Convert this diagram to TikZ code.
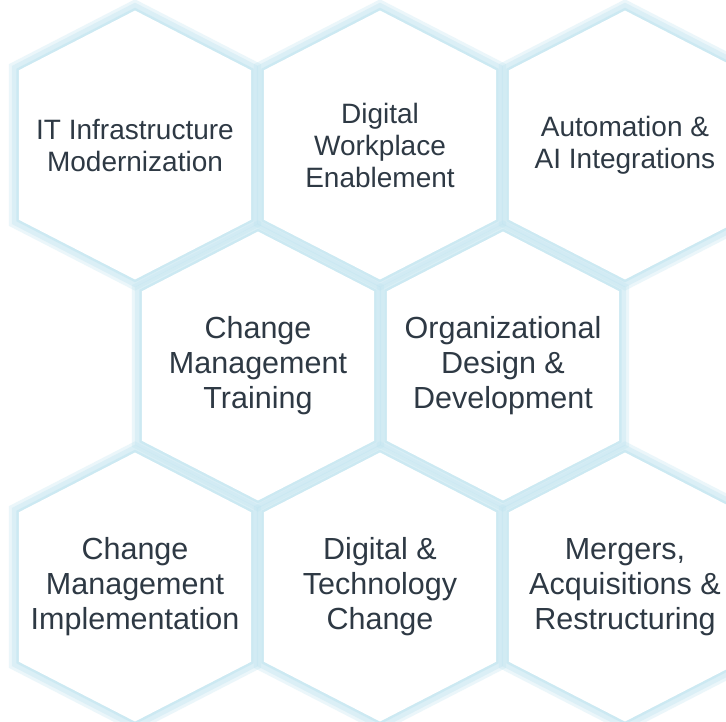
\documentclass[tikz,border=0pt]{standalone}
\usepackage{fontspec}
\setmainfont{Liberation Sans}
\newcommand{\hexa}[3]{({#1},{#2-142*#3}) -- ({#1+122.5*#3},{#2-79*#3}) -- ({#1+122.5*#3},{#2+79*#3}) -- ({#1},{#2+142*#3}) -- ({#1-122.5*#3},{#2+79*#3}) -- ({#1-122.5*#3},{#2-79*#3}) -- cycle}

\begin{document}
\begin{tikzpicture}[x=1pt, y=-1pt]
    \tikzstyle{every node} = [text=ink, align=center, inner sep=0pt]
    \tikzstyle{small} = [font=\fontsize{28}{32}\selectfont]
    \tikzstyle{big} = [font=\fontsize{30.5}{35}\selectfont]
    \tikzstyle{glow} = [draw=cell, line width=20pt, opacity=0.3]
    \tikzstyle{halo} = [draw=cell, line width=14pt, opacity=0.35]
    \tikzstyle{band} = [draw=cell, line width=5pt, opacity=0.5]

    \definecolor{cell}{RGB}{190,228,240}
    \definecolor{ink}{rgb}{0.180,0.224,0.267}

    \useasboundingbox (0,0) rectangle (726,721);
    \clip (0,0) rectangle (726,721);
    \fill[white] (0,0) rectangle (726,721);

    \def\k{0.947}
    \def\cells{135/145, 380/145, 625/145, 258/366, 503/366, 135/587, 380/587, 625/587}
    \foreach \x/\y in \cells {
        \draw[glow] \hexa{\x}{\y}{\k};
        \draw[halo] \hexa{\x}{\y}{\k};
        \draw[band] \hexa{\x}{\y}{\k};
    }
    \foreach \x/\y in \cells
        \fill[white] \hexa{\x}{\y}{\k};

    \foreach[count=\c] \x/\t in {135/{IT Infrastructure\\Modernization}, 380/{Digital\\Workplace\\Enablement}, 625/{Automation \&\\AI Integrations}}
        \node[small] (top\c) at (\x,145) {\t};
    \foreach[count=\c] \x/\t in {258/{Change\\Management\\Training}, 503/{Organizational\\Design \&\\Development}}
        \node[big] (mid\c) at (\x,366) {\t};
    \foreach[count=\c] \x/\t in {135/{Change\\Management\\Implementation}, 380/{Digital \&\\Technology\\Change}, 625/{Mergers,\\Acquisitions \&\\Restructuring}}
        \node[big] (bot\c) at (\x,587) {\t};
\end{tikzpicture}
\end{document}
